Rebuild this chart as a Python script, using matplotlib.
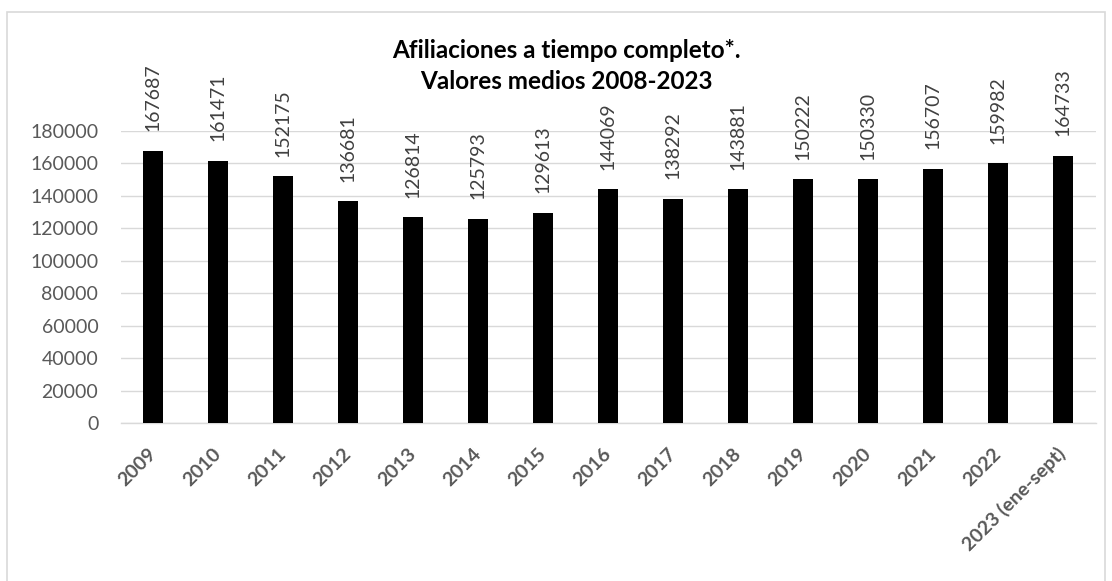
import matplotlib
matplotlib.use("Agg")
import matplotlib.pyplot as plt
from matplotlib.patches import Rectangle

# datos
years = ["2009", "2010", "2011", "2012", "2013", "2014", "2015", "2016",
         "2017", "2018", "2019", "2020", "2021", "2022", "2023 (ene-sept)"]
values = [167687, 161471, 152175, 136681, 126814, 125793, 129613, 144069,
          138292, 143881, 150222, 150330, 156707, 159982, 164733]
y_ticks = list(range(0, 180001, 20000))
title_lines = ["Afiliaciones a tiempo completo*.", "Valores medios 2008-2023"]

plt.rcParams['font.family'] = ['Lato', 'DejaVu Sans']

fig = plt.figure(figsize=(11.12, 5.81), dpi=100)
ax = fig.add_axes([0.1084, 0.2714, 0.8768, 0.5035])

x = range(len(years))
bars = ax.bar(x, values, width=0.31, color='black', zorder=3)

for xi, v in zip(x, values):
    ax.annotate(str(v), (xi, v), xytext=(0, 14), textcoords='offset points',
                rotation=90, ha='center', va='bottom', fontsize=14,
                color='#404040', annotation_clip=False)

ax.set_xlim(-0.5, len(years) - 0.5)
ax.set_ylim(0, 180000)
ax.set_yticks(y_ticks)
ax.set_yticklabels([str(t) for t in y_ticks], fontsize=14, color='#595959')
ax.set_xticks(list(x))
ax.set_xticklabels(years, rotation=45, ha='right', va='center',
                   rotation_mode='anchor', fontsize=14, fontweight='bold',
                   color='#595959')
ax.tick_params(axis='both', length=0)
ax.tick_params(axis='x', pad=20)
ax.tick_params(axis='y', pad=16)
ax.grid(axis='y', color='#d9d9d9', linewidth=1.0, zorder=0)
for s in ['left', 'right', 'top']:
    ax.spines[s].set_visible(False)
ax.spines['bottom'].set_color('#d9d9d9')
ax.spines['bottom'].set_linewidth(1.0)

fig.text(0.509, 1 - 58 / 581, title_lines[0], ha='center', va='baseline',
         fontsize=17.5, fontweight='bold', color='black')
fig.text(0.509, 1 - 89 / 581, title_lines[1], ha='center', va='baseline',
         fontsize=17.5, fontweight='bold', color='black')

# marco del gráfico
fig.patches.append(Rectangle((7 / 1112, -0.05), 1098 / 1112, 1.05 - 11.5 / 581,
                             transform=fig.transFigure, fill=False,
                             edgecolor='#d9d9d9', linewidth=1.2))

fig.savefig("out.png", dpi=100)
